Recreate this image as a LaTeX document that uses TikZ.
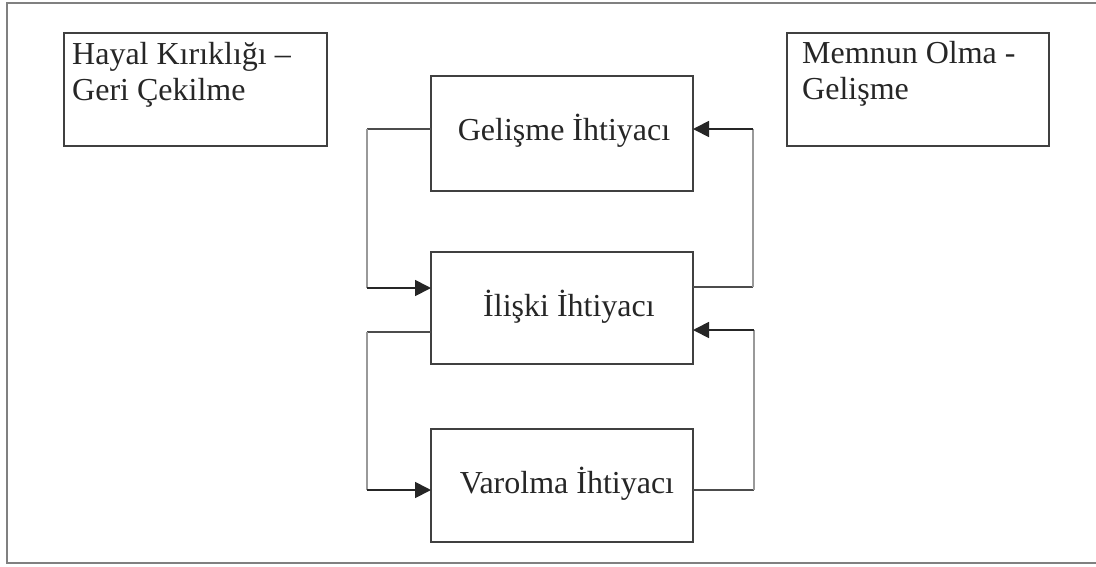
\documentclass[tikz,border=0pt]{standalone}
\usepackage{fontspec}
\setmainfont{Liberation Serif}
\usetikzlibrary{arrows.meta}
\begin{document}
\begin{tikzpicture}[x=1pt,y=-1pt,
  box/.style={draw=black!75,line width=1.4pt,rectangle,inner sep=0pt,outer sep=0pt,anchor=north west},
  lbl/.style={inner sep=0pt,anchor=base,font=\fontsize{32}{36}\selectfont,text=black!85},
  cornertxt/.style={inner sep=0pt,anchor=north west,align=left,font=\fontsize{32}{36}\selectfont,text=black!85},
  hlink/.style={draw=black!70,line width=1.3pt},
  vlink/.style={draw=black!40,line width=1.2pt},
  arr/.style={draw=black!85,line width=1.8pt,-{Triangle[length=16pt,width=16pt]}}]
\useasboundingbox (0,0) rectangle (1096,566);
\draw[draw=black!50,line width=1.5pt] (1096,3) -- (7,3) -- (7,563) -- (1096,563);
% corner boxes
\node[box,minimum width=263pt,minimum height=113pt] (lb) at (64,33) {};
\node[box,minimum width=262pt,minimum height=113pt] (rb) at (787,33) {};
\node[cornertxt] (lt) at (72,42) {Hayal Kırıklığı –\\Geri Çekilme};
\node[cornertxt] (rt) at (802,41) {Memnun Olma -\\Gelişme};
% central boxes
\node[box,minimum width=262pt,minimum height=115pt] (g) at (431,76) {};
\node[box,minimum width=262pt,minimum height=112pt] (i) at (431,252) {};
\node[box,minimum width=262pt,minimum height=113pt] (v) at (431,429) {};
\node[lbl] (gt) at (564,140) {Gelişme İhtiyacı};
\node[lbl] (it) at (569,316) {İlişki İhtiyacı};
\node[lbl] (vt) at (567,493) {Varolma İhtiyacı};
% corner coordinates
\coordinate (a1) at (367,129);
\coordinate (a2) at (367,288);
\coordinate (b1) at (367,332);
\coordinate (b2) at (367,490);
\coordinate (c1) at (753,287);
\coordinate (c2) at (753,129);
\coordinate (d1) at (754,490);
\coordinate (d2) at (754,330);
% left side: downward
\draw[hlink] (g.west |- a1) -- (a1);
\draw[vlink] (a1) -- (a2);
\draw[arr] (a2) -- (i.west |- a2);
\draw[hlink] (i.west |- b1) -- (b1);
\draw[vlink] (b1) -- (b2);
\draw[arr] (b2) -- (v.west |- b2);
% right side: upward
\draw[hlink] (i.east |- c1) -- (c1);
\draw[vlink] (c1) -- (c2);
\draw[arr] (c2) -- (g.east |- c2);
\draw[hlink] (v.east |- d1) -- (d1);
\draw[vlink] (d1) -- (d2);
\draw[arr] (d2) -- (i.east |- d2);
\end{tikzpicture}
\end{document}
